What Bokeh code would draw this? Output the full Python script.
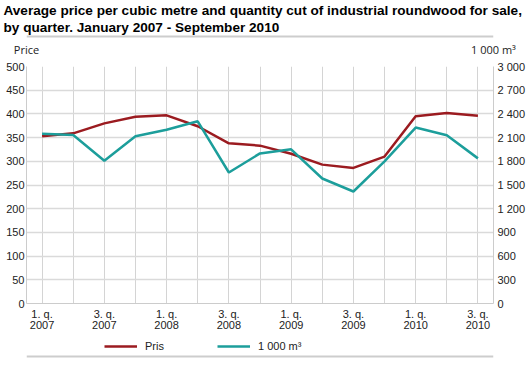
from bokeh.plotting import figure
from bokeh.layouts import column
from bokeh.models import (Range1d, LinearAxis, FixedTicker, Legend, LegendItem, Title)
from bokeh.embed import file_html
from bokeh.resources import INLINE

# ---- data ----
quarters = ["1. q. 2007", "2. q. 2007", "3. q. 2007", "4. q. 2007",
            "1. q. 2008", "2. q. 2008", "3. q. 2008", "4. q. 2008",
            "1. q. 2009", "2. q. 2009", "3. q. 2009", "4. q. 2009",
            "1. q. 2010", "2. q. 2010", "3. q. 2010"]
price = [353, 359, 380, 394, 397, 374, 338, 333, 316, 293, 286, 310, 395, 402, 396]
quantity = [2150, 2133, 1808, 2117, 2200, 2306, 1658, 1900, 1952, 1582, 1418, 1800, 2227, 2129, 1837]
price_ticks = [0, 50, 100, 150, 200, 250, 300, 350, 400, 450, 500]
qty_ticks = [0, 300, 600, 900, 1200, 1500, 1800, 2100, 2400, 2700, 3000]
title_lines = ["Average price per cubic metre and quantity cut of industrial roundwood for sale,",
               "by quarter. January 2007 - September 2010"]
axis_titles = ["Price", "1 000 m\u00b3"]
series_names = ["Pris", "1 000 m\u00b3"]

RED = "#9b1b20"
TEAL = "#1c9e9b"
FONT = "Liberation Sans"
TXT = "#222222"
RULE = "#cdcdcd"

W = 528
H_TOP, H_MAIN, H_LEG = 38, 295, 33
BL, BR = 26, 35

x = list(range(len(quarters)))
x0, x1 = -0.5, len(quarters) - 0.5

def strip(height, top, y_end):
    f = figure(width=W, height=height, output_backend="svg", toolbar_location=None,
               title_location=None, x_axis_location=None, y_axis_location=None,
               x_range=Range1d(x0, x1), y_range=Range1d(0, y_end),
               min_border_left=BL, min_border_right=BR, min_border_top=top, min_border_bottom=0)
    f.grid.visible = False
    f.outline_line_color = None
    f.background_fill_color = "white"
    f.border_fill_color = "white"
    return f

# ---- title strip with rule ----
t = strip(H_TOP, 32, 1)
for line in (title_lines[1], title_lines[0]):
    t.add_layout(Title(text=line, align="left", offset=-23, standoff=0,
                       text_font=FONT, text_font_style="bold", text_font_size="13.6px",
                       text_color="#000000"), "above")
t.line([x0, x1], [0.5, 0.5], line_color=RULE, line_width=2)

# ---- main chart ----
p = figure(width=W, height=H_MAIN, output_backend="svg", toolbar_location=None,
           title_location=None,
           x_range=Range1d(x0, x1), y_range=Range1d(0, 500),
           min_border_left=BL, min_border_right=BR, min_border_top=25, min_border_bottom=28)
p.extra_y_ranges = {"q": Range1d(0, 3000)}
p.outline_line_color = None
p.background_fill_color = "white"
p.border_fill_color = "white"

def style_labels(ax, font=FONT, size="11px"):
    ax.major_tick_line_color = None
    ax.minor_tick_line_color = None
    ax.major_tick_out = 0
    ax.major_tick_in = 0
    ax.major_label_text_font = font
    ax.major_label_text_font_size = size
    ax.major_label_text_color = TXT

p.xaxis.ticker = FixedTicker(ticks=x[::2])
p.xaxis.major_label_overrides = {i: quarters[i].replace(" 2", "\n2") for i in x}
style_labels(p.xaxis[0])
p.xaxis.axis_line_color = "#cccccc"
p.xaxis.major_label_standoff = 4
p.xaxis.major_label_text_line_height = 0.95

p.yaxis.ticker = FixedTicker(ticks=price_ticks)
style_labels(p.yaxis[0])
p.yaxis.axis_line_color = "#cccccc"
p.yaxis.major_label_standoff = 2

ra = LinearAxis(y_range_name="q", ticker=FixedTicker(ticks=qty_ticks))
ra.major_label_overrides = {v: f"{v:,}".replace(",", " ") for v in qty_ticks}
style_labels(ra)
ra.axis_line_color = "#cccccc"
ra.major_label_standoff = 4
p.add_layout(ra, "right")

ta = LinearAxis(ticker=FixedTicker(ticks=[x0, x1]))
ta.major_label_overrides = {x0: axis_titles[0], x1: axis_titles[1]}
style_labels(ta, font="Open Sans")
ta.axis_line_color = None
ta.major_label_standoff = 10
p.add_layout(ta, "above")

p.xgrid.ticker = FixedTicker(ticks=x)
p.xgrid.grid_line_color = "#d4d4d4"
p.xgrid.grid_line_width = 1
p.ygrid.ticker = FixedTicker(ticks=price_ticks)
p.ygrid.grid_line_color = "#dadada"
p.ygrid.grid_line_width = 1.5

p.line(x, price, line_color=RED, line_width=2.5)
p.line(x, quantity, line_color=TEAL, line_width=2.5, y_range_name="q")

# ---- legend strip with rule ----
q = strip(H_LEG, 0, H_LEG)
l1 = q.line(x, price, line_color=RED, line_width=2.5)      # outside the strip's range: only feeds the legend
l2 = q.line(x, quantity, line_color=TEAL, line_width=2.5)
legend = Legend(items=[LegendItem(label=series_names[0], renderers=[l1]),
                       LegendItem(label=series_names[1], renderers=[l2])],
                orientation="horizontal", location=(78, 12),
                glyph_width=33, glyph_height=16, label_standoff=8, spacing=52,
                padding=0, margin=0, border_line_color=None, background_fill_alpha=0,
                label_text_font=FONT, label_text_font_size="11px", label_text_color=TXT,
                label_height=16)
q.add_layout(legend)
q.line([x0, x1], [10, 10], line_color=RULE, line_width=2)

open("out.html", "w").write(file_html(column(t, p, q, spacing=0), INLINE))
